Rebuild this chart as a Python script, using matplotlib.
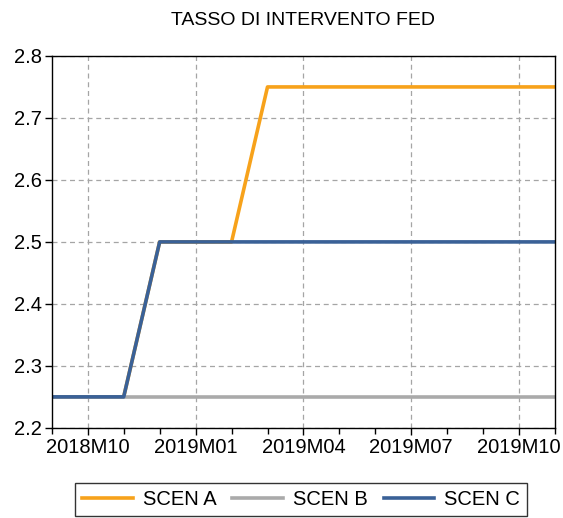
import numpy as np
import matplotlib.pyplot as plt
from matplotlib.ticker import MultipleLocator

plt.rcParams['font.family'] = ['Liberation Sans', 'DejaVu Sans']

# Monthly periods 2018M09 .. 2019M11
months = ['2018M09', '2018M10', '2018M11', '2018M12', '2019M01', '2019M02',
          '2019M03', '2019M04', '2019M05', '2019M06', '2019M07', '2019M08',
          '2019M09', '2019M10', '2019M11']
scen_a = [2.25, 2.25, 2.25, 2.50, 2.50, 2.50, 2.75, 2.75, 2.75, 2.75, 2.75, 2.75, 2.75, 2.75, 2.75]
scen_b = [2.25, 2.25, 2.25, 2.25, 2.25, 2.25, 2.25, 2.25, 2.25, 2.25, 2.25, 2.25, 2.25, 2.25, 2.25]
scen_c = [2.25, 2.25, 2.25, 2.50, 2.50, 2.50, 2.50, 2.50, 2.50, 2.50, 2.50, 2.50, 2.50, 2.50, 2.50]
tick_labels = ['2018M10', '2019M01', '2019M04', '2019M07', '2019M10']

x = np.arange(len(months))

fig = plt.figure(figsize=(5.63, 5.18), dpi=100)
ax = fig.add_axes([0.092, 0.174, 0.894, 0.718])

# Lines
ax.plot(x, scen_a, color='#F7A21B', linewidth=2.6, label='SCEN A')
ax.plot(x, scen_b, color='#AAAAAA', linewidth=2.6, label='SCEN B')
ax.plot(x, scen_c, color='#3A6197', linewidth=2.6, label='SCEN C')

ax.set_xlim(0, len(months) - 1)
ax.set_ylim(2.2, 2.8)
ax.set_xticks([months.index(t) for t in tick_labels])
ax.set_xticklabels(tick_labels)
ax.xaxis.set_minor_locator(MultipleLocator(1))
ax.set_yticks(np.arange(2.2, 2.81, 0.1))
ax.set_yticklabels([f'{v:.1f}' for v in np.arange(2.2, 2.81, 0.1)])

ax.tick_params(axis='both', which='major', labelsize=14.5, direction='out',
               length=5, width=1, color='black', pad=2)
ax.tick_params(axis='x', which='minor', direction='out', length=4, width=1)

# Grid
ax.grid(True, which='major', color='#A5A5A5', linestyle=(0, (4, 3)), linewidth=0.9)
ax.set_axisbelow(True)
for s in ax.spines.values():
    s.set_color('black')
    s.set_linewidth(1)

ax.set_title('TASSO DI INTERVENTO FED', fontsize=14, pad=22)

leg = fig.legend(loc='upper center', bbox_to_anchor=(0.535, 0.068), ncol=3,
                 fontsize=14.5, frameon=True, fancybox=False, handlelength=2.5,
                 columnspacing=0.8, handletextpad=0.5, borderpad=0.35,
                 borderaxespad=0)
leg.get_frame().set_edgecolor('black')
leg.get_frame().set_linewidth(1)

fig.savefig('out.png', dpi=100)
